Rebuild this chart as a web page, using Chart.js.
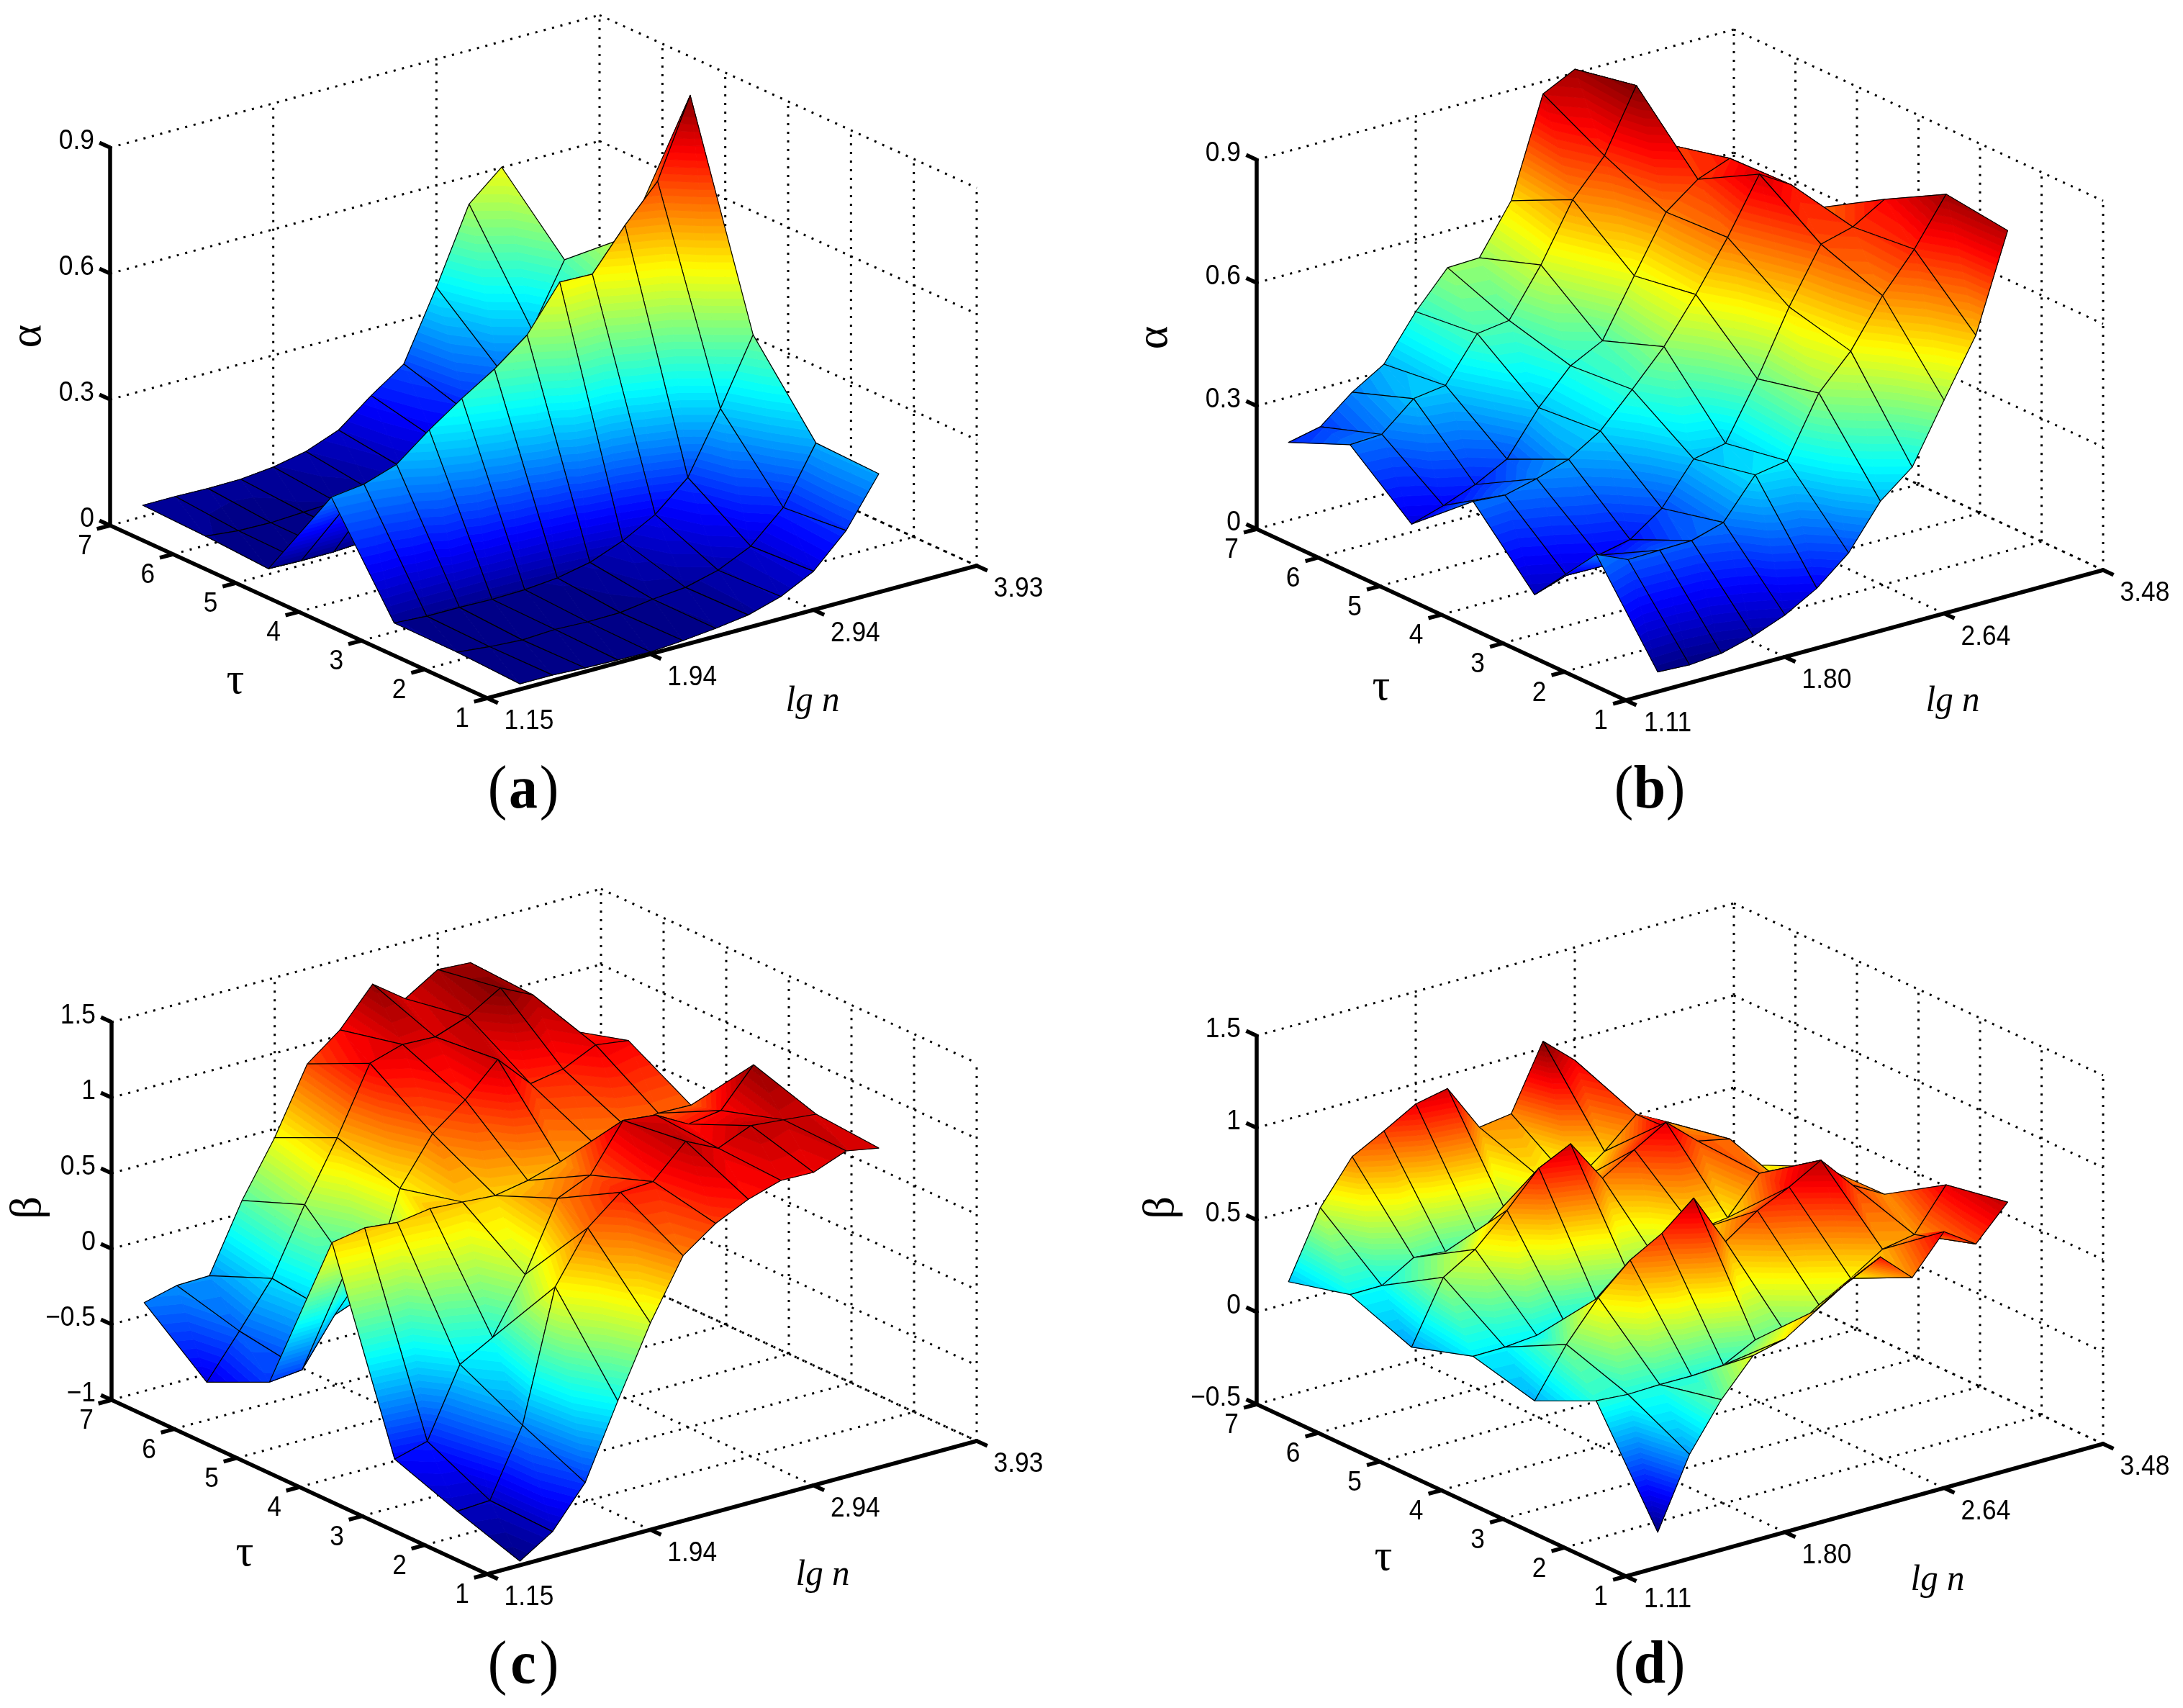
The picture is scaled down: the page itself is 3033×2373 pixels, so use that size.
<!DOCTYPE html>
<html>
<head>
<meta charset="utf-8">
<title>alpha and beta surfaces</title>
<script src="https://cdn.jsdelivr.net/npm/chart.js@4/dist/chart.umd.min.js"></script>
<style>
  body { margin: 0; background: #fff; }
  #page { position: relative; width: 3033px; height: 2373px; overflow: hidden; }
  canvas { position: absolute; }
</style>
</head>
<body>
<div id="page">
  <canvas id="chartA" width="1503" height="1190" style="left:0;top:0"></canvas>
  <canvas id="chartB" width="1503" height="1190" style="left:1530px;top:0"></canvas>
  <canvas id="chartC" width="1503" height="1173" style="left:0;top:1200px"></canvas>
  <canvas id="chartD" width="1503" height="1173" style="left:1530px;top:1200px"></canvas>
</div>
<script>
// tau runs along the rows, the lg n grid along the columns (12 of 15 steps are filled)
const tauTicks = [1, 2, 3, 4, 5, 6, 7];
const lgnSteps = 15;
const lgnColumns = [1, 2, 3, 4, 5, 6, 7, 8, 9, 10, 11, 12];

const lgnTicksAC = ["1.15", "1.94", "2.94", "3.93"];
const lgnTicksBD = ["1.11", "1.80", "2.64", "3.48"];
const alphaTicks = [0, 0.3, 0.6, 0.9];
const alphaTickLabels = ["0", "0.3", "0.6", "0.9"];
const betaTicksC = [-1, -0.5, 0, 0.5, 1, 1.5];
const betaTickLabelsC = ["−1", "−0.5", "0", "0.5", "1", "1.5"];
const betaTicksD = [-0.5, 0, 0.5, 1, 1.5];
const betaTickLabelsD = ["−0.5", "0", "0.5", "1", "1.5"];

// (a) alpha, one row per tau
const alphaA = [
  [0.013, 0.013, 0.009, 0.007, 0.005, 0.011, 0.019, 0.03, 0.053, 0.092, 0.168, 0.282],
  [0.02, 0.012, 0.007, 0.011, 0.008, 0.009, 0.02, 0.027, 0.047, 0.083, 0.154, 0.287],
  [0.021, 0.016, 0.016, 0.014, 0.016, 0.023, 0.039, 0.069, 0.111, 0.178, 0.321, 0.476],
  [0.252, 0.262, 0.288, 0.349, 0.403, 0.452, 0.512, 0.617, 0.615, 0.71, 0.794, 0.978],
  [0.013, 0.011, 0.011, 0.016, 0.03, 0.05, 0.07, 0.1, 0.16, 0.25, 0.38, 0.572],
  [0.022, 0.014, 0.012, 0.016, 0.02, 0.03, 0.06, 0.108, 0.15, 0.23, 0.304, 0.449],
  [0.027, 0.027, 0.025, 0.026, 0.034, 0.05, 0.08, 0.141, 0.195, 0.357, 0.534, 0.601],
];

// (b) alpha
const alphaB = [
  [0.048, 0.044, 0.051, 0.072, 0.102, 0.146, 0.211, 0.316, 0.378, 0.52, 0.657, 0.891],
  [0.265, 0.231, 0.233, 0.235, 0.258, 0.353, 0.366, 0.51, 0.591, 0.705, 0.797, 0.91],
  [0.097, 0.123, 0.151, 0.168, 0.223, 0.322, 0.339, 0.475, 0.629, 0.761, 0.782, 0.828],
  [0.255, 0.249, 0.268, 0.294, 0.342, 0.422, 0.505, 0.611, 0.729, 0.862, 0.815, 0.739],
  [0.13, 0.154, 0.184, 0.225, 0.329, 0.41, 0.45, 0.587, 0.721, 0.78, 0.81, 0.75],
  [0.254, 0.258, 0.324, 0.335, 0.44, 0.451, 0.565, 0.703, 0.789, 0.939, 0.774, 0.642],
  [0.19, 0.207, 0.27, 0.317, 0.424, 0.51, 0.513, 0.631, 0.87, 0.909, 0.735, 0.649],
];

// (c) beta
const betaC = [
  [-0.973, -0.836, -0.571, -0.089, 0.368, 0.754, 0.909, 1.01, 1.076, 1.071, 1.154, 1.114],
  [-0.835, -0.822, -0.383, 0.473, 0.805, 0.981, 0.994, 1.202, 1.097, 1.188, 1.168, 1.146],
  [-0.682, -0.623, -0.173, -0.054, 0.304, 0.75, 0.845, 1.148, 1.125, 1.006, 1.037, 1.281],
  [0.559, 0.597, 0.574, 0.607, 0.592, 0.576, 0.617, 0.683, 0.749, 0.797, 0.827, 0.822],
  [-0.557, -0.534, -0.23, -0.146, 0.489, 0.793, 0.958, 1.167, 0.948, 0.986, 1.087, 1.057],
  [-0.749, -0.47, -0.18, 0.249, 0.634, 1.067, 1.133, 1.124, 1.201, 1.331, 1.225, 0.936],
  [-0.415, -0.36, -0.354, 0.085, 0.442, 0.871, 1.037, 1.281, 1.126, 1.26, 1.247, 0.993],
];

// (d) beta
const betaD = [
  [-0.309, 0.066, 0.315, 0.506, 0.549, 0.658, 0.766, 0.85, 0.69, 0.891, 0.776, 0.956],
  [0.249, 0.236, 0.241, 0.24, 0.251, 0.34, 0.317, 0.434, 0.53, 0.64, 0.672, 0.894],
  [0.093, 0.351, 0.557, 0.713, 0.81, 0.954, 0.67, 0.79, 0.87, 0.968, 0.784, 0.687],
  [0.179, 0.181, 0.197, 0.178, 0.241, 0.34, 0.354, 0.526, 0.548, 0.741, 0.604, 0.68],
  [0.073, 0.404, 0.508, 0.672, 0.853, 0.937, 0.703, 0.809, 0.91, 0.76, 0.724, 0.534],
  [0.203, 0.204, 0.308, 0.292, 0.337, 0.377, 0.548, 0.468, 0.597, 0.75, 0.659, 0.497],
  [0.117, 0.471, 0.7, 0.792, 0.89, 0.926, 0.668, 0.693, 1.039, 0.888, 0.505, 0.34],
];

// axes box corners of each panel, in canvas pixels
const panels = [
  {
    id: "chartA", values: alphaA, caption: "a", zName: "α",
    zTicks: alphaTicks, zTickLabels: alphaTickLabels, lgnLabels: lgnTicksAC,
    origin: [153, 730], topCorner: [153, 205], front: [677, 970], right: [1357, 786],
    zNameAt: [40, 467], tauNameAt: [327, 947], lgnNameAt: [1129, 975], captionAt: [727, 1100],
  },
  {
    id: "chartB", values: alphaB, caption: "b", zName: "α",
    zTicks: alphaTicks, zTickLabels: alphaTickLabels, lgnLabels: lgnTicksBD,
    origin: [216, 735], topCorner: [216, 222], front: [729, 973], right: [1392, 792],
    zNameAt: [75, 469], tauNameAt: [389, 956], lgnNameAt: [1183, 975], captionAt: [762, 1100],
  },
  {
    id: "chartC", values: betaC, caption: "c", zName: "β",
    zTicks: betaTicksC, zTickLabels: betaTickLabelsC, lgnLabels: lgnTicksAC,
    origin: [155, 745], topCorner: [155, 220], front: [677, 987], right: [1357, 802],
    zNameAt: [40, 478], tauNameAt: [340, 959], lgnNameAt: [1143, 989], captionAt: [727, 1116],
  },
  {
    id: "chartD", values: betaD, caption: "d", zName: "β",
    zTicks: betaTicksD, zTickLabels: betaTickLabelsD, lgnLabels: lgnTicksBD,
    origin: [216, 751], topCorner: [216, 239], front: [729, 990], right: [1392, 806],
    zNameAt: [84, 478], tauNameAt: [392, 965], lgnNameAt: [1162, 996], captionAt: [762, 1116],
  },
];

// 3D axes position to the flat x/y scale of the chart
function project(p, tau, u, z) {
  const t = (tau - 1) / 6;
  const zMin = p.zTicks[0];
  const zMax = p.zTicks[p.zTicks.length - 1];
  const h = (z - zMin) / (zMax - zMin);
  return {
    x: p.front[0] + t * (p.origin[0] - p.front[0]) + u * (p.right[0] - p.front[0]) + h * (p.topCorner[0] - p.origin[0]),
    y: p.front[1] + t * (p.origin[1] - p.front[1]) + u * (p.right[1] - p.front[1]) + h * (p.topCorner[1] - p.origin[1]),
  };
}

function segments(list) {
  const out = [];
  list.forEach((seg) => {
    out.push(seg[0], seg[1], { x: NaN, y: NaN });
  });
  return out;
}

function gridLines(p) {
  const zMin = p.zTicks[0];
  const zMax = p.zTicks[p.zTicks.length - 1];
  const us = [0, 1 / 3, 2 / 3, 1];
  const list = [];
  tauTicks.forEach((tau) => {
    list.push([project(p, tau, 0, zMin), project(p, tau, 1, zMin)]);
    list.push([project(p, tau, 1, zMin), project(p, tau, 1, zMax)]);
  });
  us.forEach((u) => {
    list.push([project(p, 1, u, zMin), project(p, 7, u, zMin)]);
    list.push([project(p, 7, u, zMin), project(p, 7, u, zMax)]);
  });
  p.zTicks.forEach((z) => {
    list.push([project(p, 7, 0, z), project(p, 7, 1, z)]);
    list.push([project(p, 7, 1, z), project(p, 1, 1, z)]);
  });
  return segments(list);
}

function axisLines(p) {
  const zMin = p.zTicks[0];
  const zMax = p.zTicks[p.zTicks.length - 1];
  const us = [0, 1 / 3, 2 / 3, 1];
  const list = [
    [project(p, 7, 0, zMin), project(p, 7, 0, zMax)],
    [project(p, 7, 0, zMin), project(p, 1, 0, zMin)],
    [project(p, 1, 0, zMin), project(p, 1, 1, zMin)],
  ];
  p.zTicks.forEach((z) => {
    list.push([project(p, 7, 0, z), project(p, 7.17, 0, z)]);
  });
  tauTicks.forEach((tau) => {
    list.push([project(p, tau, 0, zMin), project(p, tau, -0.027, zMin)]);
  });
  us.forEach((u) => {
    list.push([project(p, 1, u, zMin), project(p, 0.83, u, zMin)]);
  });
  return segments(list);
}

function meshPoints(p) {
  const pts = [];
  p.values.forEach((row, r) => {
    row.forEach((z, c) => {
      pts.push(project(p, tauTicks[r], lgnColumns[c] / lgnSteps, z));
    });
  });
  return pts;
}

function jet(v) {
  const clamp = (a) => Math.round(255 * Math.max(0, Math.min(1, a)));
  const r = clamp(Math.min(4 * v - 1.5, -4 * v + 4.5));
  const g = clamp(Math.min(4 * v - 0.5, -4 * v + 3.5));
  const b = clamp(Math.min(4 * v + 0.5, -4 * v + 2.5));
  return `rgb(${r},${g},${b})`;
}

// keep the part of a polygon on one side of a z level
function clipZ(poly, level, above) {
  const out = [];
  poly.forEach((a, i) => {
    const b = poly[(i + 1) % poly.length];
    const aIn = above ? a.z >= level : a.z <= level;
    const bIn = above ? b.z >= level : b.z <= level;
    if (aIn) out.push(a);
    if (aIn !== bIn) {
      const f = (level - a.z) / (b.z - a.z);
      out.push({ x: a.x + f * (b.x - a.x), y: a.y + f * (b.y - a.y), z: level });
    }
  });
  return out;
}

function tracePoly(ctx, poly) {
  ctx.beginPath();
  poly.forEach((pt, i) => {
    if (i === 0) ctx.moveTo(pt.x, pt.y);
    else ctx.lineTo(pt.x, pt.y);
  });
  ctx.closePath();
}

function fillTriangle(ctx, tri, cMin, cMax) {
  const levels = 64;
  const step = (cMax - cMin) / levels;
  const zs = tri.map((v) => v.z);
  const first = Math.max(0, Math.floor((Math.min(...zs) - cMin) / step));
  const last = Math.min(levels - 1, Math.floor((Math.max(...zs) - cMin) / step));
  for (let i = first; i <= last; i++) {
    let band = clipZ(tri, cMin + i * step, true);
    if (band.length) band = clipZ(band, cMin + (i + 1) * step, false);
    if (band.length < 3) continue;
    const color = jet((i + 0.5) / levels);
    tracePoly(ctx, band);
    ctx.fillStyle = color;
    ctx.strokeStyle = color;
    ctx.lineWidth = 1;
    ctx.fill();
    ctx.stroke();
  }
}

// far quads first, so nearer ones paint over them
function drawSurface(chart, p) {
  const ctx = chart.ctx;
  const sx = chart.scales.x;
  const sy = chart.scales.y;
  const all = p.values.flat();
  const cMin = Math.min(...all);
  const cMax = Math.max(...all);
  const vertex = (r, c) => {
    const pt = project(p, tauTicks[r], lgnColumns[c] / lgnSteps, p.values[r][c]);
    return { x: sx.getPixelForValue(pt.x), y: sy.getPixelForValue(pt.y), z: p.values[r][c] };
  };
  ctx.save();
  ctx.lineJoin = "round";
  for (let r = tauTicks.length - 2; r >= 0; r--) {
    for (let c = lgnColumns.length - 2; c >= 0; c--) {
      const near = vertex(r, c);
      const side1 = vertex(r, c + 1);
      const side2 = vertex(r + 1, c);
      const far = vertex(r + 1, c + 1);
      fillTriangle(ctx, [near, far, side1], cMin, cMax);
      fillTriangle(ctx, [near, far, side2], cMin, cMax);
      tracePoly(ctx, [near, side1, far, side2]);
      ctx.strokeStyle = "#000";
      ctx.lineWidth = 1.2;
      ctx.stroke();
    }
  }
  ctx.restore();
}

// reference text is a bit narrower than the plain fonts
function drawText(ctx, text, x, y, font, align, rotate, squeeze) {
  ctx.save();
  ctx.translate(x, y);
  if (rotate) ctx.rotate(rotate);
  ctx.scale(squeeze || 0.93, 1);
  ctx.font = font;
  ctx.fillStyle = "#000";
  ctx.textAlign = align || "center";
  ctx.textBaseline = "middle";
  ctx.fillText(text, 0, 0);
  ctx.restore();
}

function drawLabels(chart, p) {
  const ctx = chart.ctx;
  const sx = chart.scales.x;
  const sy = chart.scales.y;
  const tickFont = '38px "Liberation Sans"';
  const zMin = p.zTicks[0];
  const at = (pt, dx, dy) => [sx.getPixelForValue(pt.x) + dx, sy.getPixelForValue(pt.y) + dy];

  p.zTicks.forEach((z, i) => {
    const [x, y] = at(project(p, 7, 0, z), -22, -8);
    drawText(ctx, p.zTickLabels[i], x, y, tickFont, "right");
  });
  tauTicks.forEach((tau) => {
    const [x, y] = at(project(p, tau, 0, zMin), -35, 30);
    drawText(ctx, String(tau), x, y, tickFont);
  });
  p.lgnLabels.forEach((label, i) => {
    const [x, y] = at(project(p, 1, i / 3, zMin), 58, 33);
    drawText(ctx, label, x, y, tickFont);
  });

  const greek = '62px "Liberation Serif"';
  drawText(ctx, p.zName, p.zNameAt[0], p.zNameAt[1], greek, "center", -Math.PI / 2, 1);
  drawText(ctx, "τ", p.tauNameAt[0], p.tauNameAt[1], greek, "center", 0, 1);
  drawText(ctx, "lg n", p.lgnNameAt[0], p.lgnNameAt[1], 'italic 50px "Liberation Serif"', "center", 0, 0.98);

  const [cx, cy] = p.captionAt;
  drawText(ctx, "(", cx - 36, cy, '84px "Liberation Serif"', "center", 0, 0.95);
  drawText(ctx, p.caption, cx, cy, 'bold 84px "Liberation Serif"', "center", 0, 0.95);
  drawText(ctx, ")", cx + 36, cy, '84px "Liberation Serif"', "center", 0, 0.95);
}

panels.forEach((p) => {
  const canvas = document.getElementById(p.id);
  new Chart(canvas.getContext("2d"), {
    type: "scatter",
    data: {
      datasets: [
        {
          label: "box",
          data: gridLines(p),
          showLine: true,
          pointRadius: 0,
          borderColor: "#000",
          borderWidth: 3,
          borderDash: [3, 9],
          order: 3,
        },
        {
          label: "surface",
          data: meshPoints(p),
          showLine: false,
          pointRadius: 0,
          order: 2,
        },
        {
          label: "axes",
          data: axisLines(p),
          showLine: true,
          pointRadius: 0,
          borderColor: "#000",
          borderWidth: 5.5,
          order: 1,
        },
      ],
    },
    options: {
      responsive: false,
      animation: false,
      layout: { padding: 0 },
      plugins: { legend: { display: false }, tooltip: { enabled: false } },
      scales: {
        x: { type: "linear", display: false, min: 0, max: canvas.width },
        y: { type: "linear", display: false, min: 0, max: canvas.height, reverse: true },
      },
    },
    plugins: [
      {
        id: "surface3d",
        afterDatasetDraw(chart, args) {
          if (args.index === 1) drawSurface(chart, p);
        },
        afterDraw(chart) {
          drawLabels(chart, p);
        },
      },
    ],
  });
});
</script>
</body>
</html>
